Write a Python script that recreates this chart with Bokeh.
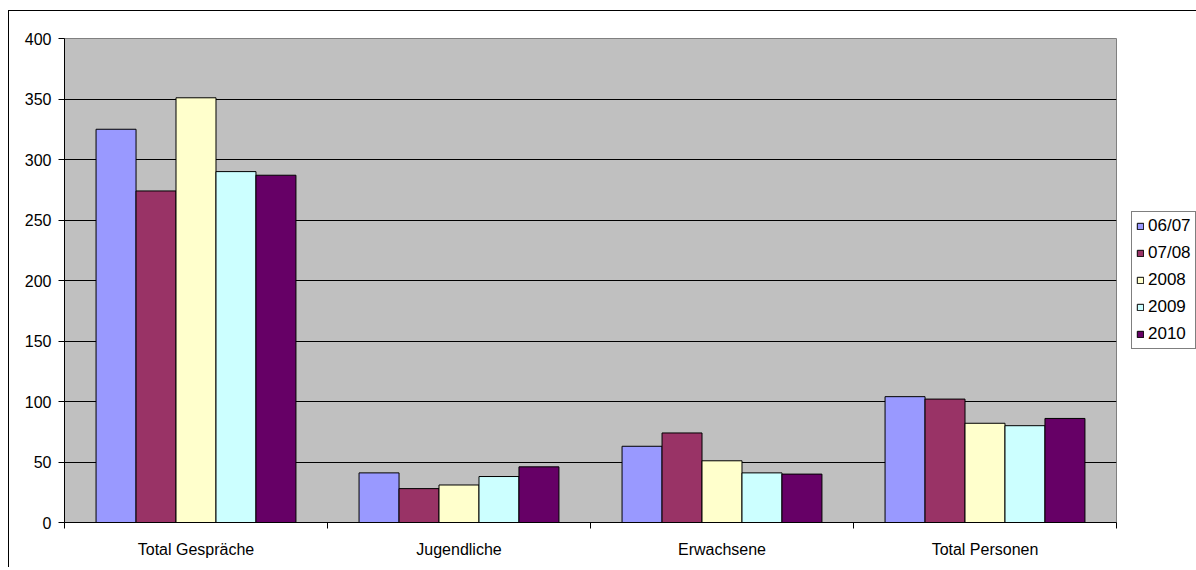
from bokeh.plotting import figure
from bokeh.models import ColumnDataSource, FixedTicker, Legend, LegendItem
from bokeh.embed import file_html
from bokeh.resources import INLINE

categories = ["Total Gespräche", "Jugendliche", "Erwachsene", "Total Personen"]
series = ["06/07", "07/08", "2008", "2009", "2010"]
v_0607 = [325, 41, 63, 104]
v_0708 = [274, 28, 74, 102]
v_2008 = [351, 31, 51, 82]
v_2009 = [290, 38, 41, 80]
v_2010 = [287, 46, 40, 86]
values = [v_0607, v_0708, v_2008, v_2009, v_2010]
colors = ["#9999FF", "#993366", "#FFFFCC", "#CCFFFF", "#660066"]
y_ticks = [0, 50, 100, 150, 200, 250, 300, 350, 400]

FONT = "Liberation Sans"

p = figure(frame_width=1052, frame_height=484, x_range=(0, len(categories)), y_range=(0, 400),
           output_backend="svg", toolbar_location=None,
           min_border_left=55, min_border_top=27, min_border_bottom=45, min_border_right=80,
           background_fill_color="#C0C0C0", border_fill_color="white")
p.margin = (10, 0, 0, 8)
p.styles = {"border-left": "1px solid black", "border-top": "1px solid black"}
p.outline_line_color = "#808080"
p.outline_line_width = 1

bar_w = 0.152
items = []
for i, (name, vals, col) in enumerate(zip(series, values, colors)):
    xs = [k + 0.5 + (i - 2) * bar_w for k in range(len(categories))]
    src = ColumnDataSource(dict(x=xs, top=vals))
    r = p.vbar(x="x", top="top", bottom=0, width=bar_w, source=src,
               fill_color=col, line_color="black", line_width=1)
    items.append(LegendItem(label=name, renderers=[r]))

# x axis
p.xaxis.ticker = FixedTicker(ticks=[k + 0.5 for k in range(len(categories))],
                             minor_ticks=list(range(len(categories) + 1)))
p.xaxis.major_label_overrides = {k + 0.5: c for k, c in enumerate(categories)}
p.xaxis.major_tick_line_color = None
p.xaxis.minor_tick_line_color = "black"
p.xaxis.minor_tick_out = 6
p.xaxis.minor_tick_in = 0
p.xaxis.axis_line_color = "black"
p.xaxis.major_label_text_font = FONT
p.xaxis.major_label_text_font_size = "16px"
p.xaxis.major_label_text_color = "black"
p.xaxis.major_label_standoff = 12

# y axis
p.yaxis.ticker = FixedTicker(ticks=y_ticks)
p.yaxis.minor_tick_line_color = None
p.yaxis.major_tick_out = 6
p.yaxis.major_tick_in = 0
p.yaxis.axis_line_color = "black"
p.yaxis.major_tick_line_color = "black"
p.yaxis.major_label_text_font = FONT
p.yaxis.major_label_text_font_size = "16px"
p.yaxis.major_label_text_color = "black"
p.yaxis.major_label_standoff = 7

p.xgrid.grid_line_color = None
p.ygrid.ticker = FixedTicker(ticks=y_ticks[1:-1])
p.ygrid.grid_line_color = "black"
p.ygrid.grid_line_width = 1

legend = Legend(items=items, location=(15, 173),
                label_text_font=FONT, label_text_font_size="17px",
                label_text_color="black",
                glyph_width=8, glyph_height=8, label_standoff=4,
                label_height=20, spacing=7, padding=4, margin=0,
                border_line_color="black", border_line_width=1,
                background_fill_color="white", background_fill_alpha=1)
p.add_layout(legend, "right")

open("out.html", "w").write(file_html(p, INLINE))
